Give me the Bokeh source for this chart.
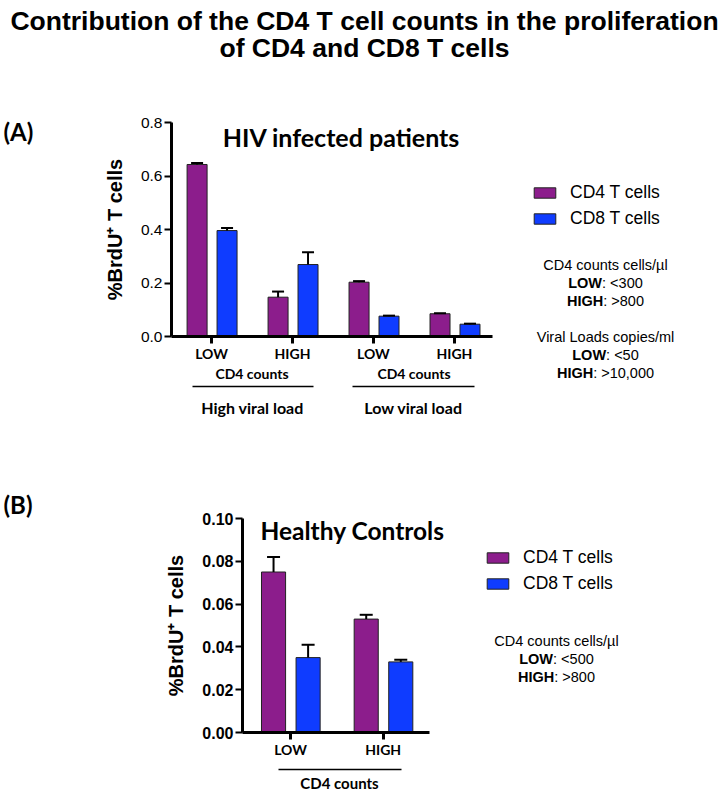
from bokeh.plotting import figure
from bokeh.models import (Range1d, FixedTicker, NumeralTickFormatter, Label, Legend,
                          LegendItem, Whisker, TeeHead, Arrow, ColumnDataSource, LinearAxis)
from bokeh.embed import file_html
from bokeh.resources import INLINE

# ---------------- data ----------------
groups_A = [1, 2, 3, 4]
ticklabels_A = ["LOW", "HIGH", "LOW", "HIGH"]
cd4_A = [0.643, 0.147, 0.203, 0.085]
cd4_A_err = [0.006, 0.021, 0.004, 0.002]
cd8_A = [0.396, 0.269, 0.076, 0.046]
cd8_A_err = [0.010, 0.046, 0.002, 0.002]
yticks_A = [0.0, 0.2, 0.4, 0.6, 0.8]

groups_B = [1, 2]
ticklabels_B = ["LOW", "HIGH"]
cd4_B = [0.075, 0.053]
cd4_B_err = [0.007, 0.002]
cd8_B = [0.035, 0.033]
cd8_B_err = [0.006, 0.001]
yticks_B = [0.0, 0.02, 0.04, 0.06, 0.08, 0.10]

series = ["CD4 T cells", "CD8 T cells"]
notes_A = [("", "CD4 counts cells/\u00b5l"), ("LOW", ": <300"), ("HIGH", ": >800"),
           ("", "Viral Loads copies/ml"), ("LOW", ": <50"), ("HIGH", ": >10,000")]
notes_B = [("", "CD4 counts cells/\u00b5l"), ("LOW", ": <500"), ("HIGH", ": >800")]

PURPLE = "#8C1D8C"
BLUE = "#0F3CFF"
ARIAL = "Liberation Sans"
CAL = "Lato"

W, H = 728, 794
PX0, PY0 = 0, 0          # page offset of canvas (as observed)

# Arial width metrics (per 1000 em) for note layout
REG = {':': 278, ' ': 278, '<': 584, '>': 584, ',': 278}
REG.update({str(d): 556 for d in range(10)})
BOLD = {'L': 611, 'O': 778, 'W': 944, 'H': 722, 'I': 278, 'G': 778}


def tw(s, table, size):
    return sum(table.get(c, 556) for c in s) * size / 1000.0


def sx(px):
    return px - PX0


def sy(py):
    return PY0 + H - py


def xrange_from(d0, p0, d1, p1):
    s = (p1 - p0) / (d1 - d0)
    return Range1d(d0 - (p0 - PX0) / s, d1 + (PX0 + W - p1) / s)


def yrange_from(d0, p0, d1, p1):
    # d0 at page y p0 (lower on page), d1 at page y p1
    s = (p0 - p1) / (d1 - d0)
    return Range1d(d0 - (PY0 + H - p0) / s, d1 + (p1 - PY0) / s)


p = figure(width=W, height=H, x_range=Range1d(0, 1), y_range=Range1d(0, 1),
           output_backend="svg", toolbar_location=None,
           x_axis_location=None, y_axis_location=None, min_border=0)
p.outline_line_color = None
p.xgrid.visible = False
p.ygrid.visible = False
p.background_fill_color = "white"
p.border_fill_color = "white"

p.extra_x_ranges = {"xa": xrange_from(0.506, 171, 4.47, 492),
                    "xb": xrange_from(0.482, 242, 2.5, 429)}
p.extra_y_ranges = {"ya": yrange_from(0.0, 336, 0.8, 122),
                    "yb": yrange_from(0.0, 732, 0.10, 518)}


def lab(text, px, py, size, font=ARIAL, style="normal", align="center",
        baseline="middle"):
    p.add_layout(Label(x=sx(px), y=sy(py), x_units="screen", y_units="screen", text=text,
                       text_font=font, text_font_size=f"{size}px",
                       text_font_style=style, text_align=align,
                       text_baseline=baseline, text_color="black"))


def hline(x0, x1, py, w=1.5):
    p.add_layout(Arrow(end=None, x_start=sx(x0), x_end=sx(x1), y_start=sy(py), y_end=sy(py),
                       start_units="screen", end_units="screen",
                       line_color="black", line_width=w))


def notes(items, cx, y0, dy, size=14.5):
    for i, (b, r) in enumerate(items):
        py = y0 + i * dy
        if not b:
            lab(r, cx, py, size)
        else:
            wb = tw(b, BOLD, size)
            wr = tw(r, REG, size)
            split = cx - (wb + wr) / 2 + wb
            lab(b, split, py, size, style="bold", align="right")
            lab(r, split, py, size, align="left")


def bars(xr, yr, groups, v4, e4, v8, e8, off4, off8, width, cap):
    s4 = ColumnDataSource(dict(x=[g + off4 for g in groups], top=v4,
                               up=[a + b for a, b in zip(v4, e4)]))
    s8 = ColumnDataSource(dict(x=[g + off8 for g in groups], top=v8,
                               up=[a + b for a, b in zip(v8, e8)]))
    r4 = p.vbar(x="x", top="top", bottom=0, width=width, source=s4,
                fill_color=PURPLE, line_color="#222222", line_width=1,
                x_range_name=xr, y_range_name=yr)
    r8 = p.vbar(x="x", top="top", bottom=0, width=width, source=s8,
                fill_color=BLUE, line_color="#222222", line_width=1,
                x_range_name=xr, y_range_name=yr)
    for s in (s4, s8):
        p.add_layout(Whisker(source=s, base="x", lower="top", upper="up",
                             x_range_name=xr, y_range_name=yr,
                             line_color="black", line_width=2, level="annotation",
                             upper_head=TeeHead(size=cap, line_width=2, line_color="black"),
                             lower_head=None))
    return r4, r8


def axes(xr, yr, xb, xticks, xlabels, yticks, yfmt, ybold, ysize, lw):
    xa = LinearAxis(x_range_name=xr, y_range_name=yr, fixed_location=0, bounds=xb)
    xa.ticker = FixedTicker(ticks=xticks, minor_ticks=[])
    xa.major_label_overrides = {t: l for t, l in zip(xticks, xlabels)}
    xa.major_label_text_font = CAL
    xa.major_label_text_font_style = "bold"
    xa.major_label_text_font_size = "14px"
    xa.major_label_text_color = "black"
    xa.major_label_standoff = 1
    xa.major_tick_out = 7
    xa.major_tick_in = 0
    xa.minor_tick_out = 0
    xa.minor_tick_in = 0
    xa.axis_line_width = lw
    xa.major_tick_line_width = lw
    p.add_layout(xa, "below")

    ya = LinearAxis(x_range_name=xr, y_range_name=yr, fixed_location=xb[0],
                    bounds=(yticks[0], yticks[-1]))
    ya.ticker = FixedTicker(ticks=yticks, minor_ticks=[])
    ya.formatter = NumeralTickFormatter(format=yfmt)
    ya.major_label_text_font = ARIAL
    ya.major_label_text_font_style = "bold" if ybold else "normal"
    ya.major_label_text_font_size = f"{ysize}px"
    ya.major_label_text_color = "black"
    ya.major_label_standoff = 2
    ya.major_tick_out = 7
    ya.major_tick_in = 0
    ya.minor_tick_out = 0
    ya.minor_tick_in = 0
    ya.axis_line_width = lw
    ya.major_tick_line_width = 2
    ya.axis_label = "%BrdU\u207a T cells"
    ya.axis_label_text_font = ARIAL
    ya.axis_label_text_font_style = "bold"
    ya.axis_label_text_font_size = "20px"
    ya.axis_label_text_color = "black"
    ya.axis_label_standoff = 12
    p.add_layout(ya, "left")


def legend(r4, r8, left_px, bottom_py):
    lg = Legend(items=[LegendItem(label=series[0], renderers=[r4]),
                       LegendItem(label=series[1], renderers=[r8])],
                location=(sx(left_px), sy(bottom_py)), orientation="vertical",
                glyph_width=27, glyph_height=13, label_standoff=12,
                label_text_font=ARIAL, label_text_font_size="17.5px",
                label_text_color="black",
                label_height=20, spacing=5, padding=0, margin=0,
                border_line_alpha=0, background_fill_alpha=0)
    p.add_layout(lg, "center")


# ---------------- panel A ----------------
r4a, r8a = bars("xa", "ya", groups_A, cd4_A, cd4_A_err, cd8_A, cd8_A_err,
                -0.178, 0.192, 0.247, 12)
axes("xa", "ya", (0.506, 4.47), groups_A, ticklabels_A, yticks_A, "0.0", False, 15.5, 3)
legend(r4a, r8a, 531, 229)

lab("Contribution of the CD4 T cell counts in the proliferation", 364, 20, 26.5,
    style="bold")
lab("of CD4 and CD8 T cells", 364, 47, 26.5, style="bold")
lab("(A)", 3, 131, 24, font=CAL, style="bold", align="left")
lab("HIV infected patients", 341, 136, 25, font=CAL, style="bold")
lab("CD4 counts", 251.5, 373, 14, font=CAL, style="bold")
lab("CD4 counts", 413.5, 373, 14, font=CAL, style="bold")
hline(192, 313, 386)
hline(352, 474, 386)
lab("High viral load", 252, 407, 16, font=CAL, style="bold")
lab("Low viral load", 413, 407, 16, font=CAL, style="bold")
notes(notes_A[:3], 605, 264, 18)
notes(notes_A[3:], 605, 336, 18)

# ---------------- panel B ----------------
r4b, r8b = bars("xb", "yb", groups_B, cd4_B, cd4_B_err, cd8_B, cd8_B_err,
                -0.183, 0.19, 0.26, 13)
axes("xb", "yb", (0.482, 2.5), groups_B, ticklabels_B, yticks_B, "0.00", True, 16, 3)
legend(r4b, r8b, 484, 594)

lab("(B)", 3, 504, 24, font=CAL, style="bold", align="left")
lab("Healthy Controls", 260, 530, 24.5, font=CAL, style="bold", align="left")
hline(278, 401, 769)
lab("CD4 counts", 339, 782, 15, font=CAL, style="bold")
notes(notes_B, 556, 640, 18)

open("out.html", "w").write(file_html(p, INLINE))
